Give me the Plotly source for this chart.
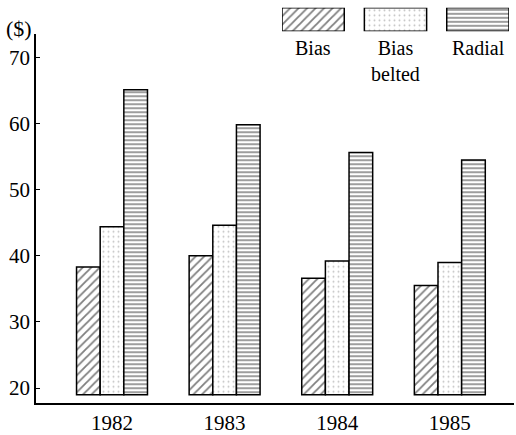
import plotly.graph_objects as go

years = ["1982", "1983", "1984", "1985"]
bias = [38.3, 40.0, 36.6, 35.5]
bias_belted = [44.4, 44.6, 39.2, 39.0]
radial = [65.1, 59.8, 55.6, 54.5]
series_names = ["Bias", "Bias<br>belted", "Radial"]
base_value = 19
y_ticks = [20, 30, 40, 50, 60, 70]

FONT = "Liberation Serif"
W, H = 516, 435
ML, MR, MT, MB = 36, 2, 0, 23
PW = W - ML - MR
PH = H - MT - MB

def px_x(p):
    return (p - ML) / PW

def px_y(p):
    return (PH + MT - p) / PH

patterns = [
    dict(shape="/", size=6, solidity=0.3, fgcolor="black", bgcolor="white"),
    dict(shape=".", size=5, solidity=0.12, fgcolor="#888888", bgcolor="white"),
    dict(shape="-", size=4, solidity=0.38, fgcolor="black", bgcolor="white"),
]

fig = go.Figure()
for vals, pat, nm in zip([bias, bias_belted, radial], patterns, series_names):
    fig.add_trace(go.Bar(
        x=years, y=[v - base_value for v in vals], base=base_value,
        name=nm.replace("<br>", " "),
        marker=dict(color="white", line=dict(color="black", width=1.5), pattern=pat),
        showlegend=False,
    ))

# custom legend swatches
fig.add_trace(go.Bar(
    x=[0, 1, 2], y=[1, 1, 1], base=0, width=0.756,
    xaxis="x2", yaxis="y2", showlegend=False, hoverinfo="skip",
    marker=dict(color="white", line=dict(color="black", width=1.5),
                pattern=dict(shape=[p["shape"] for p in patterns],
                             size=[p["size"] for p in patterns],
                             solidity=[p["solidity"] for p in patterns],
                             fgcolor=[p["fgcolor"] for p in patterns],
                             bgcolor="white")),
))

for cx, nm in zip([313, 395, 478], series_names):
    fig.add_annotation(x=px_x(cx), y=px_y(36), xref="paper", yref="paper",
                       text=nm, showarrow=False, xanchor="center", yanchor="top",
                       font=dict(family=FONT, size=20, color="black"))

fig.add_annotation(x=px_x(19), y=px_y(29), xref="paper", yref="paper", text="($)",
                   showarrow=False, xanchor="center", yanchor="middle",
                   font=dict(family=FONT, size=22, color="black"))

fig.update_layout(
    width=W, height=H,
    margin=dict(l=ML, r=MR, t=MT, b=MB),
    plot_bgcolor="white", paper_bgcolor="white",
    barmode="group", bargap=0.37, bargroupgap=0,
    font=dict(family=FONT, size=21, color="black"),
    xaxis=dict(range=[-0.675, 3.57], showline=True, linecolor="black", linewidth=1.5,
               ticks="", showgrid=False, zeroline=False, tickfont=dict(size=21),
               anchor="y", type="category"),
    yaxis=dict(domain=[0, px_y(35)], range=[17.74, 73.5], showline=True, linecolor="black",
               linewidth=1.5, ticks="inside", ticklen=4, tickcolor="black", tickwidth=1.2,
               tickvals=y_ticks, showgrid=False, zeroline=False, tickfont=dict(size=21)),
    xaxis2=dict(domain=[px_x(282), px_x(509)], range=[-0.378, 2.378], visible=False,
                anchor="y2"),
    yaxis2=dict(domain=[px_y(32), px_y(8)], range=[0, 1], visible=False, anchor="x2"),
)

fig.write_html("out.html", config={"displayModeBar": False},
               post_script="document.body.style.margin='0';document.body.style.overflow='hidden';")
